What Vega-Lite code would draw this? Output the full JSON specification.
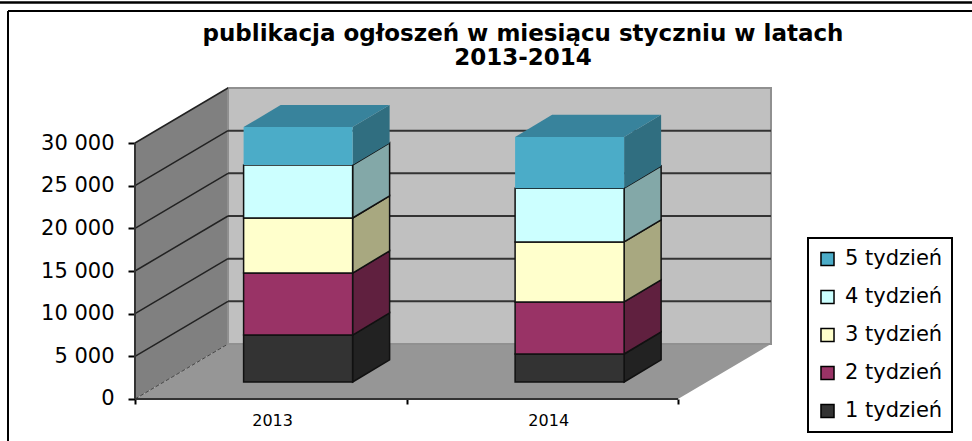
{
"$schema":"https://vega.github.io/schema/vega-lite/v6.json",
"width":956,"height":435,
"autosize":"none",
"padding":{"left":8,"top":11,"right":8,"bottom":0},
"background":"white",
"view":{"stroke":null},
"title":{"text":["publikacja ogłoszeń w miesiącu styczniu w latach","2013-2014"],"font":"DejaVu Sans","fontSize":23,"fontWeight":"bold","color":"black","anchor":"middle","dx":37,"baseline":"top","offset":-69,"lineHeight":24},
"config":{"font":"DejaVu Sans","legend":{"strokeWidth":2}},
"data":{"values":[
{"year":2013,"week":"1 tydzień","value":5500},
{"year":2013,"week":"2 tydzień","value":7270},
{"year":2013,"week":"3 tydzień","value":6450},
{"year":2013,"week":"4 tydzień","value":6200},
{"year":2013,"week":"5 tydzień","value":4450},
{"year":2014,"week":"1 tydzień","value":3280},
{"year":2014,"week":"2 tydzień","value":6100},
{"year":2014,"week":"3 tydzień","value":7030},
{"year":2014,"week":"4 tydzień","value":6300},
{"year":2014,"week":"5 tydzień","value":6000}
]},
"transform":[
{"stack":"value","groupby":["year"],"sort":[{"field":"week","order":"ascending"}],"as":["lo","hi"]},
{"calculate":"datum.year-2013+0.4","as":"xl"},
{"calculate":"datum.xl+0.4015","as":"xr"},
{"calculate":"datum.lo+1992","as":"ylo"},
{"calculate":"datum.hi+1992","as":"yhi"}
],
"resolve":{"scale":{"color":"independent"}},
"layer":[
{"data":{"values":[{"t":0},{"t":1}]},
 "transform":[{"calculate":"datum.t*0.3425","as":"x"},{"calculate":"datum.t*6445","as":"y0"},{"calculate":"30000+datum.t*6445","as":"y1"}],
 "mark":{"type":"area","orient":"vertical","fill":"#808080","clip":false},
 "encoding":{
  "x":{"field":"x","type":"quantitative","scale":{"domain":[-0.4678,3.0534],"nice":false,"zero":false},
   "axis":{"values":[0,0.505,1,1.522,2],"offset":-47,"grid":false,"domain":false,"tickSize":5,"tickColor":"black","tickWidth":2,"tickOpacity":{"expr":"datum.value%1==0?1:0"},"labelExpr":"datum.value==0.505?'2013':datum.value==1.522?'2014':''","labelFontSize":16,"labelFont":"DejaVu Sans","labelColor":"black","labelPadding":8,"labelOverlap":false,"title":null}},
  "y":{"field":"y0","type":"quantitative","scale":{"domain":[-5508,45470],"nice":false,"zero":false},
   "axis":{"values":[0,5000,10000,15000,20000,25000,30000],"offset":-127,"grid":false,"domain":false,"tickSize":7,"tickColor":"black","tickWidth":2,"labelFontSize":21,"labelFont":"DejaVu Sans","labelColor":"black","labelPadding":14,"labelExpr":"replace(format(datum.value,','),',',' ')","title":null}},
  "y2":{"field":"y1"}
 }},
{"data":{"values":[{"t":0},{"t":1}]},
 "transform":[{"calculate":"datum.t*0.3425","as":"x"},{"calculate":"2+datum.t*0.3425","as":"xe"},{"calculate":"datum.t*6445","as":"y0"}],
 "mark":{"type":"area","orient":"horizontal","fill":"#969696"},
 "encoding":{"y":{"field":"y0","type":"quantitative"},"x":{"field":"x","type":"quantitative"},"x2":{"field":"xe"}}},
{"data":{"values":[{"part":"back wall"}]},
 "transform":[{"calculate":"0.3425","as":"xa"},{"calculate":"2.3425","as":"xb"},{"calculate":"6445","as":"ya"},{"calculate":"36445","as":"yb"}],
 "mark":{"type":"rect","fill":"#c0c0c0","stroke":"#909090","strokeWidth":2},
 "encoding":{"x":{"field":"xa","type":"quantitative"},"x2":{"field":"xb"},"y":{"field":"ya","type":"quantitative"},"y2":{"field":"yb"}}},
{"data":{"values":[{"v":5000},{"v":10000},{"v":15000},{"v":20000},{"v":25000}]},
 "transform":[{"calculate":"datum.v+6445","as":"vb"},{"calculate":"0.3425","as":"xa"},{"calculate":"2.3425","as":"xb"}],
 "mark":{"type":"rule","stroke":"#333333","strokeWidth":2},
 "encoding":{"x":{"field":"xa","type":"quantitative"},"x2":{"field":"xb"},"y":{"field":"vb","type":"quantitative"}}},
{"data":{"values":[{"v":5000},{"v":10000},{"v":15000},{"v":20000},{"v":25000},{"v":30000}]},
 "transform":[{"calculate":"datum.v+6445","as":"vb"},{"calculate":"0","as":"xa"},{"calculate":"0.3425","as":"xb"}],
 "mark":{"type":"rule","stroke":"#222222","strokeWidth":1.5},
 "encoding":{"x":{"field":"xa","type":"quantitative"},"x2":{"field":"xb"},"y":{"field":"v","type":"quantitative"},"y2":{"field":"vb"}}},
{"data":{"values":[{"part":"floor edge"}]},
 "transform":[{"calculate":"0","as":"xa"},{"calculate":"0.3425","as":"xb"},{"calculate":"0","as":"ya"},{"calculate":"6445","as":"yb"}],
 "mark":{"type":"rule","stroke":"#444444","strokeWidth":1,"strokeDash":[4,2]},
 "encoding":{"x":{"field":"xa","type":"quantitative"},"x2":{"field":"xb"},"y":{"field":"ya","type":"quantitative"},"y2":{"field":"yb"}}},
{"data":{"values":[{"part":"y axis line"}]},
 "transform":[{"calculate":"0","as":"xa"},{"calculate":"0","as":"ya"},{"calculate":"30000","as":"yb"}],
 "mark":{"type":"rule","stroke":"#333333","strokeWidth":2},
 "encoding":{"x":{"field":"xa","type":"quantitative"},"y":{"field":"ya","type":"quantitative"},"y2":{"field":"yb"}}},
{"data":{"values":[{"part":"x axis line"}]},
 "transform":[{"calculate":"0","as":"xa"},{"calculate":"2","as":"xb"},{"calculate":"0","as":"ya"}],
 "mark":{"type":"rule","stroke":"#333333","strokeWidth":2},
 "encoding":{"x":{"field":"xa","type":"quantitative"},"x2":{"field":"xb"},"y":{"field":"ya","type":"quantitative"}}},
{"transform":[{"calculate":"0","as":"front"},{"calculate":"1","as":"back"},{"fold":["front","back"],"as":["face","t"]},
  {"calculate":"datum.xr+datum.t*0.1363","as":"xs"},{"calculate":"datum.ylo+datum.t*2600","as":"y0"},{"calculate":"datum.yhi+datum.t*2600","as":"y1"}],
 "mark":{"type":"area","orient":"vertical","stroke":"#111111","strokeWidth":1.5},
 "encoding":{
  "x":{"field":"xs","type":"quantitative"},"y":{"field":"y0","type":"quantitative"},"y2":{"field":"y1"},
  "detail":{"field":"year"},
  "strokeOpacity":{"condition":{"test":"datum.week=='5 tydzień'","value":0},"value":1},
  "color":{"field":"week","type":"nominal","legend":null,"scale":{"domain":["5 tydzień","4 tydzień","3 tydzień","2 tydzień","1 tydzień"],"range":["#306e80","#83a8a8","#a8a880","#60203f","#222222"]}}
 }},
{"transform":[{"filter":"datum.week=='5 tydzień'"},{"calculate":"0","as":"front"},{"calculate":"1","as":"back"},{"fold":["front","back"],"as":["face","t"]},
  {"calculate":"datum.xl+datum.t*0.1363","as":"xa"},{"calculate":"datum.xr+datum.t*0.1363","as":"xb"},{"calculate":"datum.yhi+datum.t*2600","as":"yt"}],
 "mark":{"type":"area","orient":"horizontal","fill":"#38839c"},
 "encoding":{"y":{"field":"yt","type":"quantitative"},"x":{"field":"xa","type":"quantitative"},"x2":{"field":"xb"},"detail":{"field":"year"}}},
{"mark":{"type":"rect","stroke":"#111111","strokeWidth":1.5},
 "encoding":{
  "x":{"field":"xl","type":"quantitative"},"x2":{"field":"xr"},"y":{"field":"ylo","type":"quantitative"},"y2":{"field":"yhi"},
  "strokeOpacity":{"condition":{"test":"datum.week=='5 tydzień'","value":0},"value":1},
  "color":{"field":"week","type":"nominal","scale":{"domain":["5 tydzień","4 tydzień","3 tydzień","2 tydzień","1 tydzień"],"range":["#4bacc8","#ccffff","#ffffcc","#993366","#333333"]},
   "legend":{"title":null,"orient":"none","legendX":800,"legendY":227,"fillColor":"white","strokeColor":"black","padding":9,"symbolType":"square","symbolSize":170,"symbolStrokeColor":"black","symbolStrokeWidth":1.5,"symbolOpacity":1,"labelFontSize":21,"labelFont":"DejaVu Sans","labelColor":"black","labelOffset":7,"rowPadding":14,"clipHeight":24}}
 }},
{"data":{"values":[{"part":"outer top line"}]},
 "transform":[{"calculate":"-0.5","as":"xa"},{"calculate":"3.09","as":"xb"},{"calculate":"46470","as":"ya"}],
 "mark":{"type":"rule","stroke":"black","strokeWidth":2.5},
 "encoding":{"x":{"field":"xa","type":"quantitative"},"x2":{"field":"xb"},"y":{"field":"ya","type":"quantitative"}}},
{"data":{"values":[{"part":"frame top"}]},
 "transform":[{"calculate":"-0.4678","as":"xa"},{"calculate":"3.09","as":"xb"},{"calculate":"45470","as":"ya"}],
 "mark":{"type":"rule","stroke":"black","strokeWidth":2},
 "encoding":{"x":{"field":"xa","type":"quantitative"},"x2":{"field":"xb"},"y":{"field":"ya","type":"quantitative"}}},
{"data":{"values":[{"part":"frame left"}]},
 "transform":[{"calculate":"-0.4678","as":"xa"},{"calculate":"-5508","as":"ya"},{"calculate":"45470","as":"yb"}],
 "mark":{"type":"rule","stroke":"black","strokeWidth":2},
 "encoding":{"x":{"field":"xa","type":"quantitative"},"y":{"field":"ya","type":"quantitative"},"y2":{"field":"yb"}}}
]
}
